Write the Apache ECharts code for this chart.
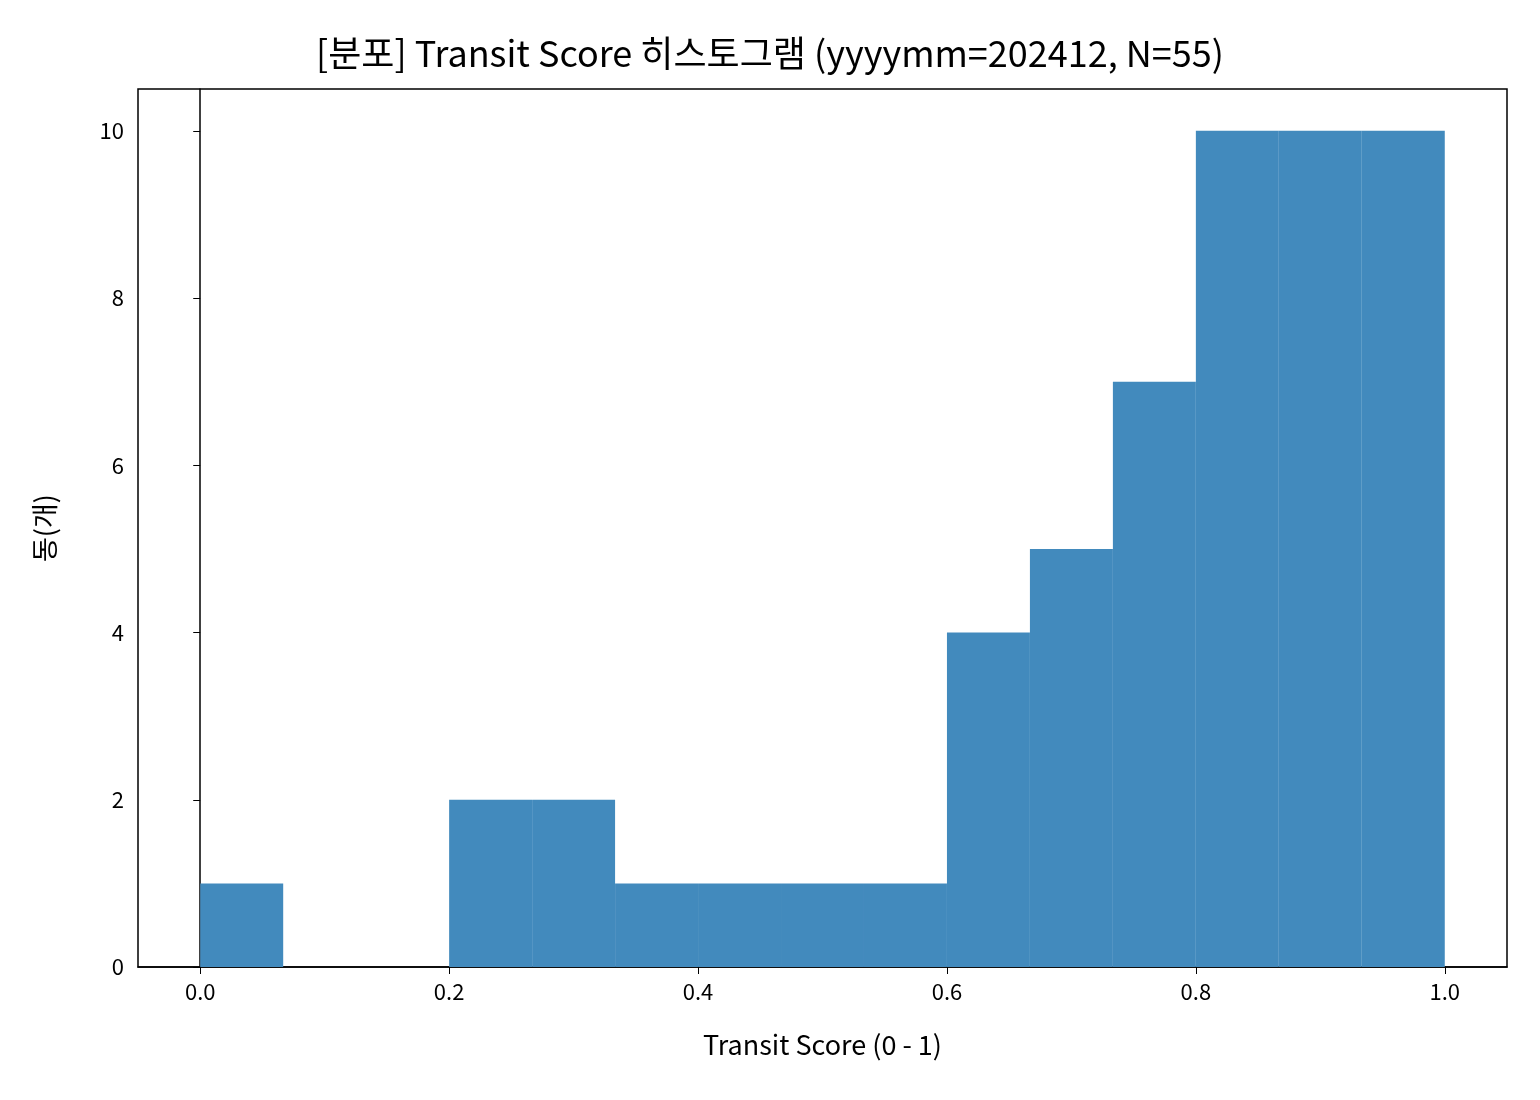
<!DOCTYPE html>
<html><head><meta charset="utf-8">
<script src="https://cdn.jsdelivr.net/npm/echarts@6/dist/echarts.min.js"></script>
<style>body{margin:0}#c{width:1540px;height:1100px}</style></head>
<body><div id="c"></div>
<script>
var binEdges = [0, 1/15, 2/15, 3/15, 4/15, 5/15, 6/15, 7/15, 8/15, 9/15, 10/15, 11/15, 12/15, 13/15, 14/15, 1];
var counts = [1, 0, 0, 2, 2, 1, 1, 1, 1, 4, 5, 7, 10, 10, 10];
var xTicks = [0, 0.2, 0.4, 0.6, 0.8, 1.0];
var yTicks = [0, 2, 4, 6, 8, 10];

var font = '"Noto Sans CJK KR", "Noto Sans", sans-serif';
var data = [];
for (var i = 0; i < counts.length; i++) {
    data.push([binEdges[i], binEdges[i+1], counts[i]]);
}
var chart = echarts.init(document.getElementById('c'));
chart.setOption({
    animation: false,
    title: {
        text: '[분포] Transit Score 히스토그램 (yyyymm=202412, N=55)',
        left: 'center', top: 30,
        textStyle: {fontFamily: font, fontSize: 36, fontWeight: 'normal', color: '#000'}
    },
    grid: {left: 138, right: 33, top: 89, bottom: 133, show: true, borderColor: '#000', borderWidth: 1.5},
    xAxis: {
        type: 'value', min: -0.05, max: 1.05,
        name: 'Transit Score (0 - 1)', nameLocation: 'middle', nameGap: 64,
        nameTextStyle: {fontFamily: font, fontSize: 27, color: '#000'},
        axisLine: {show: true, lineStyle: {color: '#000', width: 1.5}},
        axisTick: {show: true, length: 7, lineStyle: {color: '#000'}, customValues: xTicks},
        axisLabel: {fontFamily: font, fontSize: 22, color: '#000', margin: 14, customValues: xTicks,
            formatter: function (v) { return v.toFixed(1); }},
        splitLine: {show: false}
    },
    yAxis: {
        type: 'value', min: 0, max: 10.5,
        name: '동(개)', nameLocation: 'middle', nameGap: 80,
        nameTextStyle: {fontFamily: font, fontSize: 27, color: '#000'},
        axisLine: {show: true, lineStyle: {color: '#000', width: 1.5}},
        axisTick: {show: true, length: 7, lineStyle: {color: '#000'}, customValues: yTicks},
        axisLabel: {fontFamily: font, fontSize: 22, color: '#000', margin: 14, customValues: yTicks},
        splitLine: {show: false}
    },
    series: [{
        type: 'custom',
        data: data,
        encode: {x: [0, 1], y: 2},
        renderItem: function (params, api) {
            var p0 = api.coord([api.value(0), api.value(2)]);
            var p1 = api.coord([api.value(1), 0]);
            return {type: 'rect', shape: {x: p0[0], y: p0[1], width: p1[0] - p0[0], height: p1[1] - p0[1]},
                style: {fill: '#428abd'}};
        }
    }]
});
</script></body></html>
